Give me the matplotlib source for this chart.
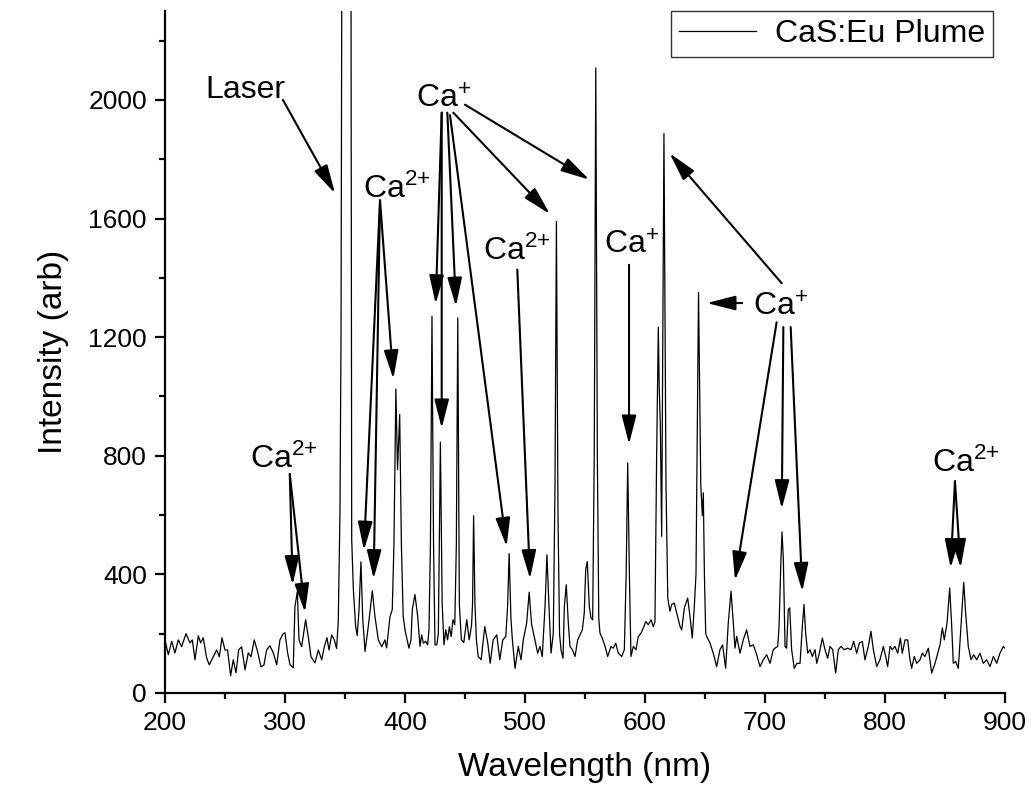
import matplotlib
matplotlib.use("Agg")
import matplotlib.pyplot as plt
from matplotlib.ticker import MultipleLocator

plt.rcParams['font.family'] = ['Liberation Sans', 'DejaVu Sans']
plt.rcParams['mathtext.default'] = 'regular'

# espectro (longitud de onda en nm, intensidad arb)
wavelength = [
    200, 202.8, 205.6, 208.3, 211.1, 213.9, 217.5, 220.8, 222.8, 225, 227.8, 229.7,
    231.9, 234.7, 236.9, 240.3, 243.1, 245.3, 247.5, 250, 252.2, 254.7, 256.9, 259.2,
    261.4, 263.9, 266.7, 269.4, 271.7, 274.4, 277.2, 280, 282.5, 284.7, 287.5, 290.3,
    293.1, 295.8, 298.5, 300, 302.2, 304.2, 306.9, 308.3, 310.3, 311.7, 313.9, 317.2,
    319.4, 321.7, 325, 327.8, 330.6, 332.8, 335, 336.7, 338.9, 341.1, 343, 344.4,
    345.8, 346.7, 347.4, 351, 355, 355.6, 357, 358.9, 360.2, 361.7, 363.3, 364.8,
    366.7, 369.4, 372.8, 375, 377.8, 380.6, 383.3, 384.7, 387.5, 389.4, 390.8, 392.4,
    393.8, 395.6, 397, 398.5, 400, 403.3, 405, 406.1, 408.3, 410.6, 412.5, 413.9,
    415.3, 417.2, 418.9, 420, 421.2, 422.5, 423.8, 425, 426.5, 427.8, 429.5, 431,
    432.5, 434, 435.5, 437, 438.5, 440, 441.5, 442.8, 444, 445.3, 447, 449,
    451.5, 453.5, 455.5, 456.3, 457.2, 458.3, 459.5, 461, 463.5, 466.5, 469, 471,
    473.5, 476.5, 479, 481.5, 484, 485.5, 486.8, 488.3, 489.5, 491.7, 494.4, 496.7,
    498.6, 501.4, 503.5, 505.5, 506.5, 508.3, 510.6, 512.5, 514.4, 516.7, 518.3, 520,
    521.7, 523.6, 525, 526.2, 527.5, 528.8, 530, 531.7, 532.8, 534.4, 536.1, 537.5,
    539.4, 541.7, 543.9, 545.8, 547.8, 549.4, 550.6, 551.9, 553.6, 555, 556.4, 557.7,
    559, 560.3, 561.5, 562.5, 564.4, 566.7, 568.9, 571.7, 573.6, 575.6, 577.8, 580.6,
    582.8, 584.3, 585.6, 587, 588.3, 590.3, 592.5, 594.4, 596.7, 598.6, 600.6, 602.8,
    605, 606.9, 608.3, 609.7, 611.1, 611.8, 612.8, 613.9, 615.8, 617.5, 619, 620.8,
    622.2, 624.4, 626.4, 629.2, 630.6, 632.8, 635.6, 637.5, 639.4, 641.1, 642.5, 644.6,
    646.5, 647.8, 648.6, 649.5, 650.6, 651.4, 654.2, 656.9, 659.7, 662.5, 664.7, 667.2,
    669.4, 671.7, 673.6, 675, 676.4, 679.2, 681.9, 684.7, 687.5, 690.3, 693.1, 695.8,
    698.6, 701.4, 704.2, 706.9, 708.3, 710.6, 711.7, 713.3, 714.2, 715.3, 716.7, 718,
    719.4, 720.6, 722.2, 724.4, 726.7, 729.2, 731.1, 732.5, 733.9, 735.6, 737.5, 739.4,
    741.7, 743.1, 745.3, 747.8, 750, 752.2, 754.2, 756.4, 758.9, 761.1, 763.3, 766.1,
    768.9, 771.7, 773.9, 776.4, 778.6, 781.1, 783.3, 786.1, 788.3, 790.3, 793.1, 795.8,
    798.6, 800.6, 802.2, 804.2, 806.1, 808.3, 810.6, 812.8, 814.4, 816.7, 818.9, 820.8,
    822.2, 824.4, 826.4, 829.2, 831.1, 833.3, 836.1, 838.9, 841.7, 843.9, 845.8, 847.8,
    849.4, 851.7, 853.9, 855.6, 856.9, 858.9, 861.1, 863.3, 865.6, 867.2, 869.4, 871.7,
    873.9, 876.4, 879.2, 881.9, 884.7, 887.5, 890.3, 893.1, 895.8, 898.6, 900,
]
intensity = [
    179, 129, 174, 135, 179, 156, 200, 169, 179, 112, 193, 169,
    186, 118, 95, 122, 145, 122, 186, 145, 145, 58, 112, 68,
    145, 156, 78, 135, 122, 179, 139, 88, 95, 145, 159, 135,
    95, 179, 200, 203, 135, 95, 85, 291, 342, 179, 156, 247,
    190, 122, 101, 145, 112, 156, 186, 145, 196, 179, 150, 240,
    600, 1200, 2500, 2700, 2500, 518, 348, 223, 194, 280, 442, 250,
    140, 223, 345, 257, 179, 156, 179, 152, 257, 281, 500, 1025,
    753, 939, 500, 260, 213, 151, 179, 281, 332, 258, 157, 196,
    168, 174, 162, 213, 500, 1270, 500, 162, 162, 200, 846, 300,
    162, 213, 179, 223, 190, 247, 230, 500, 1265, 300, 179, 170,
    247, 179, 230, 300, 598, 300, 180, 123, 112, 224, 168, 100,
    179, 196, 112, 179, 190, 292, 470, 250, 179, 83, 157, 112,
    179, 236, 340, 230, 213, 179, 134, 157, 123, 292, 466, 292,
    134, 202, 700, 1590, 600, 200, 146, 117, 292, 365, 236, 157,
    146, 123, 179, 196, 213, 270, 416, 443, 292, 253, 247, 800,
    2108, 800, 250, 202, 185, 157, 123, 157, 151, 168, 134, 123,
    146, 400, 776, 400, 123, 157, 146, 190, 202, 219, 241, 230,
    247, 224, 240, 800, 1234, 1040, 900, 528, 1887, 700, 320, 275,
    298, 303, 270, 224, 213, 287, 320, 258, 185, 292, 400, 1351,
    700, 598, 675, 400, 202, 191, 168, 134, 89, 146, 162, 83,
    236, 343, 236, 151, 191, 134, 179, 213, 157, 162, 129, 89,
    112, 129, 100, 146, 151, 157, 224, 450, 543, 450, 157, 151,
    281, 287, 146, 83, 100, 100, 224, 298, 202, 134, 146, 123,
    146, 100, 134, 185, 146, 117, 157, 146, 67, 146, 157, 146,
    151, 146, 174, 134, 168, 174, 112, 157, 208, 146, 89, 112,
    157, 123, 89, 157, 146, 157, 134, 185, 134, 179, 179, 112,
    83, 123, 100, 112, 134, 123, 151, 67, 100, 134, 162, 219,
    179, 236, 354, 224, 100, 106, 83, 224, 373, 270, 157, 112,
    129, 112, 134, 100, 112, 89, 123, 100, 134, 157, 151,
]

# etiquetas: texto, posicion (nm, arb)
labels = [
    ("Laser", 267, 2007),
    ("Ca$^{{+}}$", 432.5, 1973),
    ("Ca$^{2{+}}$", 393.3, 1668),
    ("Ca$^{2{+}}$", 299, 758),
    ("Ca$^{2{+}}$", 493.4, 1460),
    ("Ca$^{{+}}$", 589, 1483),
    ("Ca$^{{+}}$", 713, 1273),
    ("Ca$^{2{+}}$", 867.5, 745),
]

# flechas: (inicio nm, inicio arb, punta nm, punta arb)
arrows = [
    (298.3, 2000, 341.7, 1685),
    (304, 738, 306.4, 365),
    (304, 738, 316.7, 272),
    (379.2, 1661, 365.8, 481),
    (379.2, 1661, 373.9, 385),
    (379.2, 1661, 390.3, 1059),
    (430.6, 1957, 425.6, 1312),
    (430.6, 1957, 430.6, 893),
    (435.3, 1957, 442.5, 1304),
    (437.5, 1949, 484.7, 494),
    (440.3, 1957, 520.8, 1615),
    (450, 1984, 553.6, 1731),
    (493.6, 1428, 504.2, 385),
    (586.7, 1444, 586.7, 839),
    (713.9, 1382, 620.5, 1820),
    (681, 1315, 651.5, 1315),
    (709.7, 1250, 675, 380),
    (715.3, 1234, 714, 621),
    (721.4, 1234, 731.1, 342),
    (858.3, 714, 854.7, 422),
    (858.3, 714, 863, 422),
]

fig = plt.figure(figsize=(10.33, 8), dpi=100)
ax = fig.add_axes([0.1597, 0.1338, 0.8132, 0.8525])

ax.plot(wavelength, intensity, color='black', lw=0.9, label='CaS:Eu Plume')

for txt, x, y in labels:
    ax.text(x, y, txt, fontsize=23, ha='center', va='baseline')

for x0, y0, x1, y1 in arrows:
    ax.annotate('', xy=(x1, y1), xytext=(x0, y0),
                arrowprops=dict(arrowstyle='-|>,head_length=1.1,head_width=0.28',
                                mutation_scale=16, lw=1.5, color='black',
                                shrinkA=0, shrinkB=0))

ax.set_xlim(200, 900)
ax.set_ylim(0, 2300)
ax.xaxis.set_major_locator(MultipleLocator(100))
ax.xaxis.set_minor_locator(MultipleLocator(50))
ax.yaxis.set_major_locator(MultipleLocator(400))
ax.yaxis.set_minor_locator(MultipleLocator(200))
ax.spines['top'].set_visible(False)
ax.spines['right'].set_visible(False)
ax.spines['left'].set_linewidth(1.6)
ax.spines['bottom'].set_linewidth(1.6)
ax.tick_params(which='major', direction='out', length=7, width=1.6, labelsize=19, pad=6)
ax.tick_params(which='minor', direction='out', length=4, width=1.6)

ax.set_xlabel("Wavelength (nm)", fontsize=24, labelpad=12)
ax.set_ylabel("Intensity (arb)", fontsize=24, labelpad=14)

leg = ax.legend(loc='upper right', bbox_to_anchor=(0.986, 1.0), borderaxespad=0,
                fontsize=23, fancybox=False, frameon=True, handlelength=2.4,
                borderpad=0.25, handletextpad=0.6)
leg.get_frame().set_edgecolor('black')
leg.get_frame().set_linewidth(1.0)

fig.savefig("out.png", dpi=100)
